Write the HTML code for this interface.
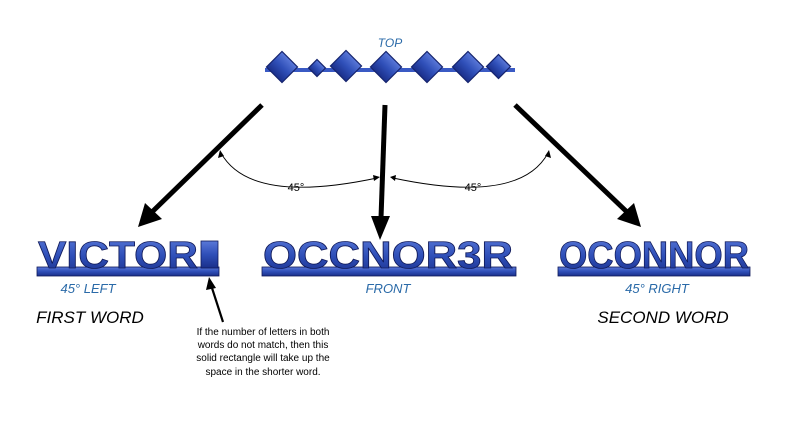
<!DOCTYPE html>
<html><head><meta charset="utf-8"><style>
html,body{margin:0;padding:0;background:#fff;}
svg{display:block;}
</style></head><body>
<svg width="794" height="429" viewBox="0 0 794 429" xmlns="http://www.w3.org/2000/svg">
<defs>
<linearGradient id="bl" x1="0" y1="0" x2="0" y2="1">
<stop offset="0" stop-color="#5a78d8"/><stop offset="0.5" stop-color="#2f4fb8"/><stop offset="1" stop-color="#1a2f8a"/>
</linearGradient>
</defs>
<rect width="794" height="429" fill="#fff"/>
<!-- TOP -->
<text x="390" y="47" font-family="Liberation Sans, sans-serif" font-style="italic" font-size="12" fill="#2a6aa8" text-anchor="middle">TOP</text>
<g fill="url(#bl)" stroke="#16246e" stroke-width="1.2">
<rect x="265" y="68" width="250" height="4" stroke="none" fill="#3a5ac4"/>
<rect x="271" y="56" width="22" height="22" transform="rotate(45 282 67)"/>
<rect x="311" y="62" width="12" height="12" transform="rotate(45 317 68)"/>
<rect x="335" y="55" width="22" height="22" transform="rotate(45 346 66)"/>
<rect x="375" y="56" width="22" height="22" transform="rotate(45 386 67)"/>
<rect x="416" y="56" width="22" height="22" transform="rotate(45 427 67)"/>
<rect x="457" y="56" width="22" height="22" transform="rotate(45 468 67)"/>
<rect x="490" y="58" width="17" height="17" transform="rotate(45 498.5 66.5)"/>
</g>
<!-- main arrows -->
<g stroke="#000" stroke-width="5" fill="#000">
<line x1="262" y1="105" x2="152" y2="212"/>
<line x1="385" y1="105" x2="381" y2="218"/>
<line x1="515" y1="105" x2="627" y2="212"/>
</g>
<polygon points="138,227 145,203 162,219" fill="#000"/>
<polygon points="380,240 371,216 390,216" fill="#000"/>
<polygon points="641,227 617,219 634,203" fill="#000"/>
<!-- arcs -->
<g fill="none" stroke="#000" stroke-width="0.9">
<path d="M221,153 Q250,205 377,178"/>
<path d="M393,178 Q520,205 548,153"/>
</g>
<g fill="#000">
<polygon points="220,150 218,158 224,156"/>
<polygon points="380,177 373,175 374,181"/>
<polygon points="390,177 396,175 395,181"/>
<polygon points="549,150 545,156 551,158"/>
</g>
<g font-family="Liberation Sans, sans-serif" font-size="11" fill="#000" text-anchor="middle">
<text x="296" y="191">45°</text>
<text x="473" y="191">45°</text>
</g>
<!-- words -->
<g font-family="Liberation Sans, sans-serif" font-weight="bold" fill="url(#bl)" stroke="#101a5a" stroke-width="0.8">
<rect x="37" y="267" width="182" height="9"/>
<text x="38" y="268" font-size="38" textLength="160" lengthAdjust="spacingAndGlyphs">VICTOR</text>
<rect x="201" y="241" width="17" height="27"/>
<rect x="262" y="267" width="254" height="9"/>
<text x="263" y="268" font-size="38" textLength="250" lengthAdjust="spacingAndGlyphs">OCCNOR3R</text>
<rect x="558" y="267" width="192" height="9"/>
<text x="559" y="268" font-size="38" textLength="190" lengthAdjust="spacingAndGlyphs">OCONNOR</text>
</g>
<!-- labels -->
<g font-family="Liberation Sans, sans-serif" font-style="italic" font-size="13" fill="#2a6aa8" text-anchor="middle">
<text x="88" y="293">45° LEFT</text>
<text x="388" y="293">FRONT</text>
<text x="657" y="293">45° RIGHT</text>
</g>
<g font-family="Liberation Sans, sans-serif" font-style="italic" font-size="17" fill="#000" text-anchor="middle">
<text x="90" y="323">FIRST WORD</text>
<text x="663" y="323">SECOND WORD</text>
</g>
<!-- pointer -->
<line x1="223" y1="322" x2="212" y2="288" stroke="#000" stroke-width="2.2"/>
<polygon points="209,277 206,290 216,288" fill="#000"/>
<g font-family="Liberation Sans, sans-serif" font-size="10" fill="#000" text-anchor="middle">
<text x="263" y="335">If the number of letters in both</text>
<text x="263" y="348">words do not match, then this</text>
<text x="263" y="361">solid rectangle will take up the</text>
<text x="263" y="375">space in the shorter word.</text>
</g>
</svg>
</body></html>
